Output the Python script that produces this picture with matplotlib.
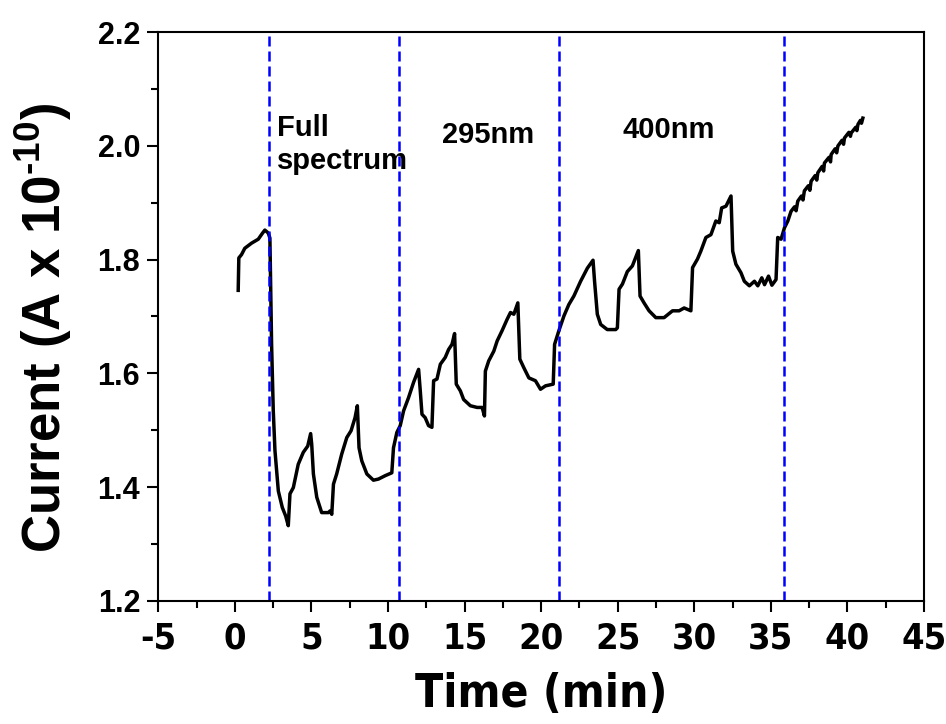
import numpy as np
import matplotlib
matplotlib.use('Agg')
import matplotlib.pyplot as plt
from matplotlib import font_manager
from matplotlib.ticker import MultipleLocator, FormatStrFormatter

# photocurrent trace: time (min), current (A x 1e-10)
time = [0.22, 0.26, 0.44, 0.65, 1.09, 1.53, 1.79, 1.96, 2.18, 2.29,
        2.40, 2.51, 2.62, 2.84, 3.10, 3.32, 3.49, 3.60, 3.82, 4.14,
        4.47, 4.76, 4.95, 5.02, 5.13, 5.35, 5.67, 6.11, 6.22, 6.33,
        6.44, 6.65, 6.98, 7.31, 7.59, 7.85, 8.00, 8.11, 8.29, 8.62,
        9.05, 9.38, 9.82, 10.25, 10.36, 10.58, 10.80, 11.02, 11.34, 11.67,
        12.00, 12.11, 12.22, 12.43, 12.65, 12.87, 12.98, 13.20, 13.42, 13.74,
        13.96, 14.18, 14.35, 14.46, 14.73, 14.94, 15.38, 15.82, 16.15, 16.30,
        16.36, 16.58, 16.91, 17.13, 17.45, 17.78, 18.00, 18.22, 18.48, 18.61,
        18.87, 19.20, 19.63, 19.96, 20.29, 20.79, 20.88, 21.16, 21.49, 21.81,
        22.14, 22.58, 23.02, 23.39, 23.49, 23.67, 23.89, 24.32, 24.87, 24.98,
        25.09, 25.31, 25.63, 25.96, 26.35, 26.46, 26.72, 27.05, 27.49, 28.03,
        28.58, 29.01, 29.34, 29.78, 29.89, 30.21, 30.43, 30.76, 31.09, 31.41,
        31.63, 31.79, 32.07, 32.40, 32.51, 32.72, 33.05, 33.27, 33.60, 33.93,
        34.15, 34.41, 34.59, 34.85, 35.07, 35.34, 35.45, 35.67, 35.89, 36.11,
        36.32, 36.55, 36.65, 36.76, 37.00, 37.10, 37.19, 37.45, 37.55, 37.63,
        37.90, 38.00, 38.07, 38.35, 38.45, 38.50, 38.80, 38.90, 38.94, 39.20,
        39.30, 39.38, 39.65, 39.75, 39.81, 40.10, 40.20, 40.25, 40.55, 40.62,
        40.69, 40.85, 40.92, 41.01]
current = [1.746, 1.803, 1.809, 1.820, 1.829, 1.836, 1.846, 1.852, 1.847, 1.838,
           1.651, 1.534, 1.464, 1.393, 1.364, 1.349, 1.332, 1.388, 1.399, 1.440,
           1.461, 1.472, 1.494, 1.475, 1.423, 1.382, 1.355, 1.355, 1.358, 1.352,
           1.405, 1.423, 1.458, 1.487, 1.499, 1.522, 1.543, 1.469, 1.446, 1.423,
           1.412, 1.414, 1.420, 1.425, 1.469, 1.496, 1.508, 1.534, 1.557, 1.584,
           1.607, 1.569, 1.528, 1.522, 1.508, 1.505, 1.587, 1.590, 1.616, 1.628,
           1.642, 1.651, 1.670, 1.581, 1.569, 1.554, 1.543, 1.540, 1.540, 1.525,
           1.604, 1.622, 1.639, 1.657, 1.675, 1.695, 1.707, 1.704, 1.724, 1.625,
           1.610, 1.592, 1.587, 1.572, 1.578, 1.581, 1.651, 1.675, 1.701, 1.721,
           1.736, 1.762, 1.785, 1.799, 1.762, 1.704, 1.686, 1.677, 1.677, 1.680,
           1.748, 1.757, 1.779, 1.789, 1.816, 1.736, 1.724, 1.710, 1.698, 1.698,
           1.710, 1.710, 1.715, 1.710, 1.786, 1.801, 1.815, 1.839, 1.844, 1.868,
           1.865, 1.891, 1.894, 1.912, 1.815, 1.792, 1.777, 1.762, 1.754, 1.762,
           1.754, 1.768, 1.756, 1.771, 1.755, 1.765, 1.839, 1.836, 1.856, 1.868,
           1.885, 1.893, 1.886, 1.903, 1.912, 1.905, 1.921, 1.930, 1.922, 1.938,
           1.948, 1.940, 1.953, 1.964, 1.956, 1.970, 1.980, 1.972, 1.985, 1.995,
           1.988, 2.000, 2.010, 2.003, 2.014, 2.024, 2.017, 2.023, 2.033, 2.027,
           2.038, 2.045, 2.040, 2.049]

# times where the light source was switched
switch_times = [2.25, 10.73, 21.14, 35.86]

# region labels: (x, y, text)
labels = [(2.77, 2.056, 'Full\nspectrum'),
          (13.53, 2.019, '295nm'),
          (25.30, 2.028, '400nm')]

plt.rcParams['font.family'] = ['Liberation Sans', 'DejaVu Sans']
plt.rcParams['axes.unicode_minus'] = False
plt.rcParams['mathtext.fontset'] = 'custom'
plt.rcParams['mathtext.rm'] = 'Liberation Sans:bold'
plt.rcParams['mathtext.bf'] = 'Liberation Sans:bold'

# condensed bold face for the x axis, if one is installed
narrow_names = [f.name for f in font_manager.fontManager.ttflist
                if 'narrow' in f.name.lower() or 'condensed' in f.name.lower()]
narrow = dict(family=['Liberation Sans Narrow'] if 'Liberation Sans Narrow' in narrow_names
              else ['DejaVu Sans'], stretch='condensed')

fig = plt.figure(figsize=(9.46, 7.24), dpi=100)
ax = fig.add_axes([0.1673, 0.1703, 0.8094, 0.7851])

ax.plot(time, current, color='black', linewidth=2.5)
for t in switch_times:
    ax.axvline(t, color='#0000ff', linestyle=(0, (4, 2)), linewidth=1.8)

for x, y, s in labels:
    ax.text(x, y, s, fontsize=21, fontweight='bold', va='top' if '\n' in s else 'center',
            ha='left', linespacing=1.2)

ax.set_xlim(-5, 45)
ax.set_ylim(1.2, 2.2)
ax.xaxis.set_major_locator(MultipleLocator(5))
ax.xaxis.set_minor_locator(MultipleLocator(2.5))
ax.yaxis.set_major_locator(MultipleLocator(0.2))
ax.yaxis.set_minor_locator(MultipleLocator(0.1))
ax.yaxis.set_major_formatter(FormatStrFormatter('%.1f'))

ax.tick_params(which='major', length=8, width=1.5, direction='out', pad=5)
ax.tick_params(which='minor', length=5, width=1.5, direction='out')
ax.tick_params(axis='x', which='major', pad=7)
for lab in ax.get_yticklabels():
    lab.set_fontsize(22)
    lab.set_fontweight('bold')
for lab in ax.get_xticklabels():
    lab.set_family(narrow['family'])
    lab.set_stretch(narrow['stretch'])
    lab.set_fontsize(26)
    lab.set_fontweight('bold')
for sp in ax.spines.values():
    sp.set_linewidth(1.5)

ax.set_xlabel('Time (min)', fontsize=33, fontweight='bold', family=narrow['family'],
              stretch=narrow['stretch'], labelpad=12)
ax.set_ylabel(r'Current (A x 10$^{\text{-10}}$)', fontsize=38, fontweight='bold')
ax.yaxis.set_label_coords(-0.11, 0.48)

fig.savefig('out.png', dpi=100)
